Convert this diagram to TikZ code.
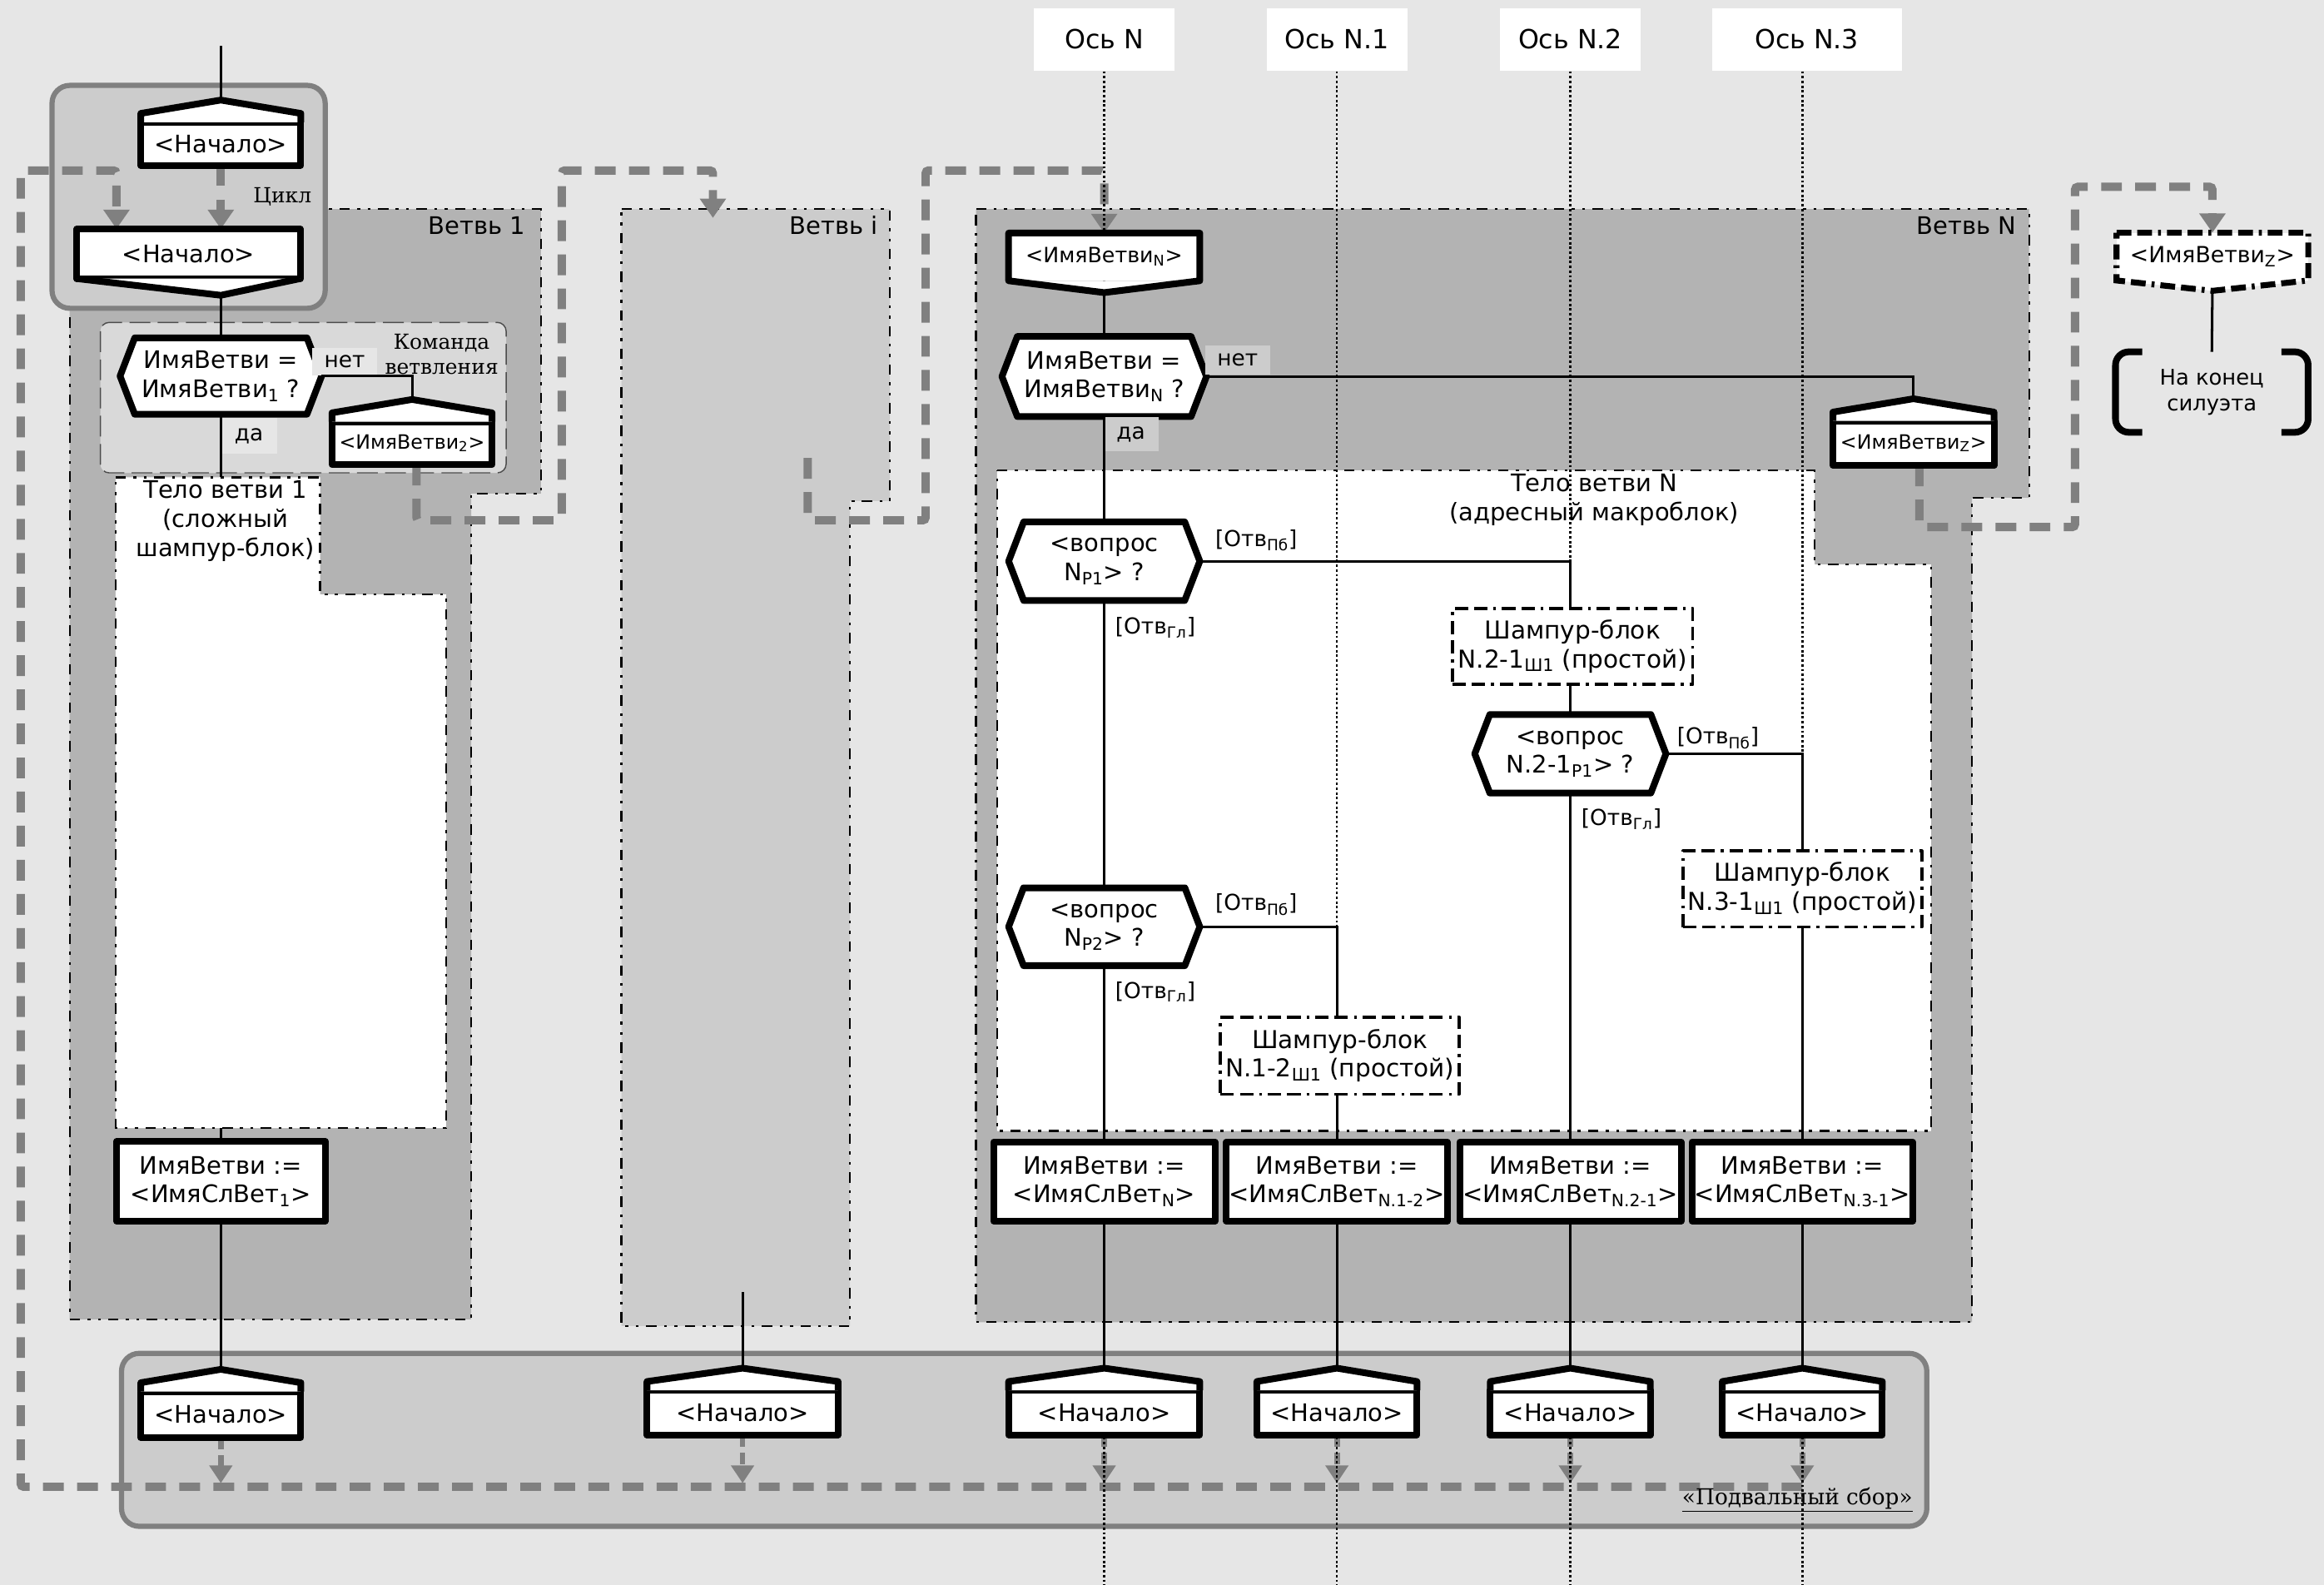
\documentclass[tikz,border=0pt]{standalone}
\usepackage{fontspec}
\setmainfont{DejaVu Sans}
\newfontfamily\serifcap{DejaVu Serif}
\usetikzlibrary{shapes.symbols,arrows.meta,calc}

\definecolor{bggray}{HTML}{E6E6E6}
\definecolor{brgray}{HTML}{B3B3B3}
\definecolor{ltgray}{HTML}{CCCCCC}
\definecolor{cmdgray}{HTML}{D9D9D9}
\definecolor{loopgray}{HTML}{808080}

\pgfdeclarelayer{back}
\pgfdeclarelayer{dash}
\pgfdeclarelayer{axes}
\pgfsetlayers{back,dash,axes,main}

\tikzset{
  thk/.style={line width=4.5pt, line join=round},
  box/.style={draw, thk, fill=white, rectangle, inner sep=0pt, outer sep=0pt, align=center},
  txtbox/.style={fill=white, inner sep=0pt, outer sep=0pt, align=center},
  hexa/.style={box, signal, signal to=east and west, signal pointer angle=138},
  shbox/.style={box, line width=2.2pt, dash pattern=on 9pt off 4pt on 9pt off 4pt on 2pt off 4pt, font=\fontsize{16.6}{19.5}\selectfont},
  region/.style={draw, line width=1.3pt, dash pattern=on 7pt off 5pt on 2pt off 5pt on 2pt off 5pt},
  conn/.style={line width=1.7pt},
  axisline/.style={line width=1.5pt, dash pattern=on 1.6pt off 1.6pt},
  axislabel/.style={fill=white, minimum width=95pt, minimum height=42.5pt, font=\fontsize{17.8}{20}\selectfont},
  loopline/.style={draw=loopgray, line width=5.6pt, dash pattern=on 14pt off 9pt, rounded corners=2pt},
  bigtip/.style={-{Triangle[width=17pt,length=13pt]}},
  smallarrow/.style={draw=loopgray, line width=3.8pt, dash pattern=on 8pt off 4pt, -{Triangle[width=15pt,length=12pt]}},
  tag/.style={inner sep=0pt, outer sep=0pt, font=\fontsize{14.8}{17}\selectfont},
  yesno/.style={tag, align=center},
  note/.style={font=\serifcap\fontsize{14}{17}\selectfont, align=center, inner sep=0pt}
}

\begin{document}
\begin{tikzpicture}[x=1pt,y=-1pt,font=\fontsize{16.3}{19.5}\selectfont]
\useasboundingbox (0,0) rectangle (1568,1069);

% axes labels
\node[axislabel] (axN) at (745,26.6) {Ось N};
\node[axislabel] (axN1) at (902,26.6) {Ось N.1};
\node[axislabel] (axN2) at (1059.5,26.6) {Ось N.2};
\node[axislabel, minimum width=128pt] (axN3) at (1219,26.6) {Ось N.3};
\coordinate (bottomedge) at (0,1069);

% branch 1
\coordinate (top) at (149,31);
\node[box, minimum width=108pt, minimum height=29pt] (s0) at (149,97) {<Начало>};
\node[note] (cyc) at (190.5,132.5) {Цикл};
\node[box, minimum width=150.7pt, minimum height=33.5pt] (e0) at (127.2,171.2) {<Начало>};
\coordinate (e0-tip) at (149,199.2);
\node[hexa, minimum width=136pt, minimum height=51.5pt] (q0) at (149,253.7) {ИмяВетви =\\ИмяВетви\textsubscript{1} ?};
\node[yesno, fill=bggray, minimum width=44pt, minimum height=18pt] (no0) at (232.5,244) {нет};
\node[yesno, fill=bggray, minimum width=38pt, minimum height=24.5pt] (yes0) at (168,294) {да};
\node[note] (cmd) at (298,239) {Команда\\ветвления};
\node[box, minimum width=108pt, minimum height=29pt, font=\fontsize{13.3}{16}\selectfont] (name2) at (278,299) {<ИмяВетви\textsubscript{2}>};
\node[align=center] (body1) at (152,351.5) {Тело ветви 1\\(сложный\\шампур-блок)};
\coordinate (b1top) at (149,322);
\coordinate (b1bot) at (149,761);
\node[box, minimum width=140.7pt, minimum height=53.8pt] (a1) at (149,797) {ИмяВетви :=\\<ИмяСлВет\textsubscript{1}>};
\node[box, minimum width=108pt, minimum height=31pt] (sb1) at (149,954.3) {<Начало>};
\node[anchor=east] (br1) at (358,152) {Ветвь 1};

% branch i
\node[anchor=east] (bri) at (596,152) {Ветвь i};
\coordinate (itop) at (481,147);
\coordinate (iend) at (545,309);
\coordinate (iout) at (501,871.6);
\node[box, minimum width=129pt, minimum height=30pt] (sbi) at (501,953) {<Начало>};

% branch N
\node[anchor=east] (brN) at (1364,152) {Ветвь N};
\node[txtbox, minimum width=129pt, minimum height=32.2pt, font=\fontsize{14.2}{17}\selectfont] (nameN) at (745,173.3) {<ИмяВетви\textsubscript{N}>};
\coordinate (nameN-tip) at ($(nameN.south)+(0,8)$);
\node[hexa, minimum width=138pt, minimum height=54pt] (qN) at (745,254) {ИмяВетви =\\ИмяВетви\textsubscript{N} ?};
\node[yesno, fill=ltgray, minimum width=44pt, minimum height=19.6pt] (noN) at (835,242.8) {нет};
\node[yesno, fill=ltgray, minimum width=37pt, minimum height=22.8pt] (yesN) at (763,293) {да};
\node[box, minimum width=108.7pt, minimum height=30pt, font=\fontsize{13.3}{16}\selectfont] (nameZ) at (1291,299) {<ИмяВетви\textsubscript{Z}>};
\node[align=center] (bodyN) at (1075.5,337.2) {Тело ветви N\\(адресный макроблок)};
\node[hexa, minimum width=129pt, minimum height=53pt] (q1) at (745,378.6) {<вопрос\\N\textsubscript{P1}> ?};
\node[shbox, minimum width=162pt, minimum height=51.4pt] (sh21) at (1061,436) {Шампур-блок\\N.2-1\textsubscript{Ш1} (простой)};
\node[hexa, minimum width=129pt, minimum height=53pt] (q21) at (1059.5,508.5) {<вопрос\\N.2-1\textsubscript{P1}> ?};
\node[shbox, minimum width=161pt, minimum height=51.3pt] (sh31) at (1216,599.7) {Шампур-блок\\N.3-1\textsubscript{Ш1} (простой)};
\node[hexa, minimum width=129pt, minimum height=52.5pt] (q2) at (745,625.2) {<вопрос\\N\textsubscript{P2}> ?};
\node[shbox, minimum width=161pt, minimum height=52pt] (sh12) at (904,712.2) {Шампур-блок\\N.1-2\textsubscript{Ш1} (простой)};
\node[tag, anchor=west] (t1) at (820,364.5) {[Отв\textsubscript{Пб}]};
\node[tag, anchor=west] (t2) at (752.5,423.5) {[Отв\textsubscript{Гл}]};
\node[tag, anchor=west] (t3) at (1131.5,498) {[Отв\textsubscript{Пб}]};
\node[tag, anchor=west] (t4) at (1067,552.7) {[Отв\textsubscript{Гл}]};
\node[tag, anchor=west] (t5) at (820,610.3) {[Отв\textsubscript{Пб}]};
\node[tag, anchor=west] (t6) at (752.5,669.2) {[Отв\textsubscript{Гл}]};
\node[box, minimum width=149.4pt, minimum height=53.3pt] (aN) at (745,797.1) {ИмяВетви :=\\<ИмяСлВет\textsubscript{N}>};
\node[box, minimum width=149.1pt, minimum height=53.3pt] (aN1) at (902,797.1) {ИмяВетви :=\\<ИмяСлВет\textsubscript{N.1-2}>};
\node[box, minimum width=149.4pt, minimum height=53.3pt] (aN2) at (1059.5,797.1) {ИмяВетви :=\\<ИмяСлВет\textsubscript{N.2-1}>};
\node[box, minimum width=149pt, minimum height=53.3pt] (aN3) at (1216,797.1) {ИмяВетви :=\\<ИмяСлВет\textsubscript{N.3-1}>};

% cellar
\node[box, minimum width=129pt, minimum height=30pt] (sbN) at (745,953) {<Начало>};
\node[box, minimum width=108pt, minimum height=30pt] (sbN1) at (902,953) {<Начало>};
\node[box, minimum width=108pt, minimum height=30pt] (sbN2) at (1059.5,953) {<Начало>};
\node[box, minimum width=108pt, minimum height=30pt] (sbN3) at (1216,953) {<Начало>};
\node[note, anchor=east, font=\serifcap\fontsize{14.8}{17}\selectfont] (cellar) at (1290.6,1012) {\underline{«Подвальный сбор»}};
\coordinate (fl) at (0,1000.6);

% end of silhouette
\node[txtbox, minimum width=129.4pt, minimum height=32.2pt, font=\fontsize{15}{18}\selectfont] (nameZt) at (1492.7,173.1) {<ИмяВетви\textsubscript{Z}>};
\coordinate (nameZt-tip) at ($(nameZt.south)+(0,7)$);
\node[align=center, minimum width=130pt, minimum height=54.3pt, inner sep=0pt, outer sep=0pt, font=\fontsize{14.5}{17.5}\selectfont] (endN) at (1492.3,264.5) {На конец\\силуэта};

% roofs and pointers
\foreach \n in {s0,name2,nameZ,sb1,sbi,sbN,sbN1,sbN2,sbN3}
  \draw[thk, fill=white] (\n.north west) -- ++(0,-6) -- ($(\n.north)+(0,-15)$) coordinate (\n-apex) -- ($(\n.north east)+(0,-6)$) -- (\n.north east);
\draw[thk, fill=white] (e0.south west) -- (e0-tip) -- (e0.south east);
\fill[white] (nameN.south west) -- (nameN-tip) -- (nameN.south east) -- cycle;
\draw[thk] (nameN.north west) -- (nameN.north east) -- (nameN.south east) -- (nameN-tip) -- (nameN.south west) -- cycle;
\fill[white] (nameZt.south west) -- (nameZt-tip) -- (nameZt.south east) -- cycle;
\draw[line width=4pt, dash pattern=on 10pt off 4pt on 10pt off 4pt on 2pt off 4pt] (nameZt.north west) -- (nameZt.north east) -- (nameZt.south east) -- (nameZt-tip) -- (nameZt.south west) -- cycle;
\draw[thk, rounded corners=9pt] ($(endN.north west)+(18,0)$) -- (endN.north west) -- (endN.south west) -- ($(endN.south west)+(18,0)$);
\draw[thk, rounded corners=9pt] ($(endN.north east)+(-18,0)$) -- (endN.north east) -- (endN.south east) -- ($(endN.south east)+(-18,0)$);

% connectors
\draw[conn] (top) -- (s0-apex);
\draw[conn] (e0-tip) -- (q0.north);
\draw[conn] (q0.east) -| (name2-apex);
\draw[conn] (q0.south) -- (b1top);
\draw[conn] (b1bot) -- (a1.north);
\draw[conn] (a1.south) -- (sb1-apex);
\draw[conn] (iout) -- (sbi-apex);
\draw[conn] (nameN-tip) -- (qN.north);
\draw[conn] (qN.east) -| (nameZ-apex);
\draw[conn] (qN.south) -- (q1.north);
\draw[conn] (q1.east) -| (q21.north |- sh21.north);
\draw[conn] (q1.south) -- (q2.north);
\draw[conn] (q2.east) -| (sbN1.north |- sh12.north);
\draw[conn] (q2.south) -- (aN.north);
\draw[conn] (q21.north |- sh21.south) -- (q21.north);
\draw[conn] (q21.east) -| (sh31.north);
\draw[conn] (q21.south) -- (aN2.north);
\draw[conn] (sh31.south) -- (aN3.north);
\draw[conn] (sbN1.north |- sh12.south) -- (aN1.north);
\foreach \a/\b in {aN/sbN,aN1/sbN1,aN2/sbN2,aN3/sbN3}
  \draw[conn] (\a.south) -- (\b-apex);
\draw[conn] (nameZt-tip) -- (endN.north);

\begin{pgfonlayer}{back}
  \fill[bggray] (0,0) rectangle (1568,1069);
  % branches
  \draw[region, fill=brgray] (47,141) -- (365,141) -- (365,333) -- (318,333) -- (318,890) -- (47,890) -- cycle;
  \draw[region, fill=ltgray] (419.3,141) -- (600.4,141) -- (600.4,338) -- (573.4,338) -- (573.4,894.5) -- (419.3,894.5) -- cycle;
  \draw[region, fill=brgray] (658.5,141) -- (1369,141) -- (1369,335.7) -- (1330.5,335.7) -- (1330.5,892) -- (658.5,892) -- cycle;
  \draw[region, fill=white] (78,322) -- (216,322) -- (216,401) -- (301,401) -- (301,761) -- (78,761) -- cycle;
  \draw[region, fill=white] (672.7,317.4) -- (1224.4,317.4) -- (1224.4,380.8) -- (1302.8,380.8) -- (1302.8,763) -- (672.7,763) -- cycle;
  % containers
  \draw[draw=loopgray, fill=ltgray, line width=3.5pt, rounded corners=12pt] (35.1,57.6) rectangle (219.4,208);
  \draw[draw=black!70, fill=cmdgray, line width=0.8pt, dash pattern=on 14pt off 5pt, rounded corners=6pt] (67.7,217.5) rectangle (341.5,319);
  \draw[draw=loopgray, fill=ltgray, line width=3.5pt, rounded corners=12pt] (82,913) rectangle (1300,1029.7);
\end{pgfonlayer}

\begin{pgfonlayer}{dash}
  \coordinate (fR) at (1216,1003);
  \coordinate (fL) at (14,1003);
  \coordinate (cL) at (14,115);
  \coordinate (cR) at (78.6,115);
  \draw[loopline, bigtip] (fR) -- (fL) -- (cL) -- (cR) -- (cR |- e0.north);
  \draw[loopline, bigtip] (s0.south) -- (s0.south |- e0.north);
  \draw[loopline, bigtip] ([xshift=3pt]name2.south) |- (379,351) -- (379,115) -- (itop |- cR) -- (itop);
  \coordinate (nc) at (624.5,115);
  \draw[loopline, bigtip] (iend) |- (624.5,351) -- (nc) -- (nc -| nameN.north) -- (nameN.north);
  \coordinate (zc) at (1400,126);
  \draw[loopline, bigtip] ([xshift=4pt]nameZ.south) |- (1400,355.6) -- (zc) -- (zc -| nameZt.north) -- (nameZt.north);
  \foreach \n in {sb1,sbi,sbN,sbN1,sbN2,sbN3}
    \draw[smallarrow] (\n.south) -- (\n.south |- fl);
\end{pgfonlayer}

\begin{pgfonlayer}{axes}
  \foreach \a/\b in {axN/sbN,axN1/sbN1,axN2/sbN2,axN3/sbN3}
    \draw[axisline] (\a.south -| \b.north) -- (\b.north |- bottomedge);
\end{pgfonlayer}
\end{tikzpicture}
\end{document}
